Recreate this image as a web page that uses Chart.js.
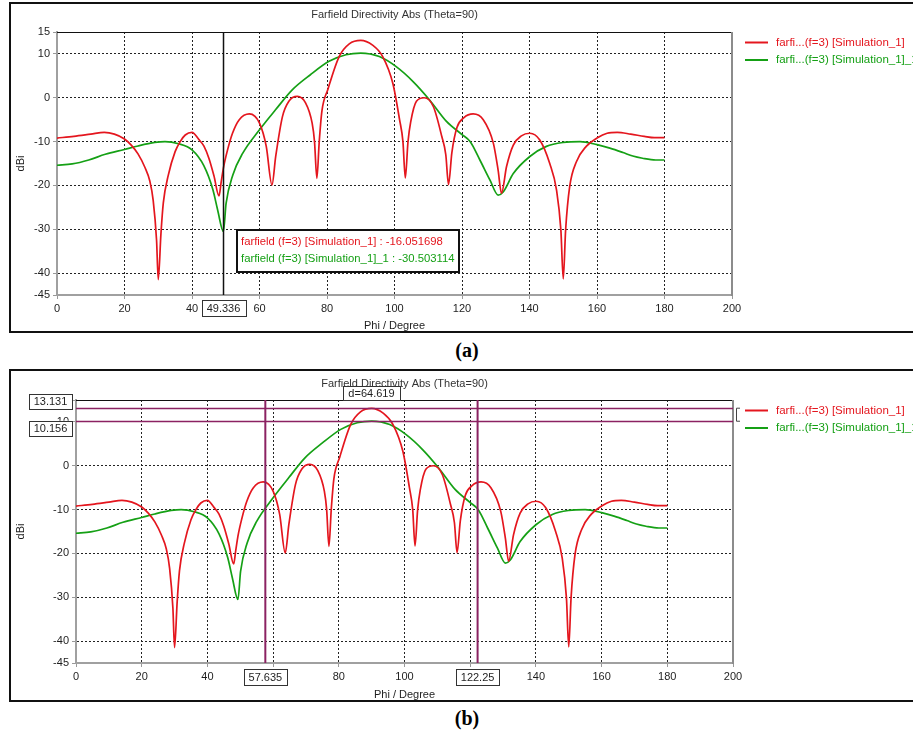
<!DOCTYPE html>
<html>
<head>
<meta charset="utf-8">
<script src="https://cdn.jsdelivr.net/npm/chart.js@4.4.0/dist/chart.umd.min.js"></script>
<style>
  body { margin: 0; background: #fff; width: 913px; height: 736px; overflow: hidden; position: relative; }
  .panel { position: absolute; left: 9px; width: 906px; border: 2px solid #111; background: #fff; overflow: hidden; }
  #panelA { top: 2px; height: 327px; }
  #panelB { top: 369px; height: 329px; }
  .panel canvas { position: absolute; left: 0; top: 0; }
  .cap { position: absolute; left: 417px; width: 100px; text-align: center; font: bold 20px "Liberation Serif", serif; color: #000; }
</style>
</head>
<body>
<div class="panel" id="panelA"><canvas id="chartA" width="902" height="327"></canvas></div>
<div class="cap" style="top:339px">(a)</div>
<div class="panel" id="panelB"><canvas id="chartB" width="902" height="329"></canvas></div>
<div class="cap" style="top:707px">(b)</div>
<script>
// Farfield directivity cut (Theta=90)
const phiRed = [0, 5, 10, 14, 17, 20, 22, 24, 26, 27.5, 28.5, 29.5, 30, 30.8, 31.5, 33, 35, 36.5, 38, 40,
    42, 43.5, 45, 46.5, 48, 48.6, 49.3, 50.5, 52, 54, 57, 60, 62, 63.7, 64.8, 66.8, 68.7, 71.2, 73.6, 75.6,
    76.3, 77, 77.7, 78.5, 80.3, 83.6, 86.6, 90, 93.5, 96.5, 99.5, 101.5, 102.5, 103.2, 104, 104.8, 106.5, 108.8, 111.5, 114,
    115.2, 116, 117, 118.5, 120.5, 123.3, 126.3, 129.3, 130.7, 131.7, 133.2, 135.2, 137.6, 140.1, 143, 146, 148, 149.3, 150, 150.7,
    151.9, 153.9, 156.8, 160, 163, 166, 170, 174, 177, 180];
const dbiRed = [-9.2, -8.8, -8.3, -7.9, -8.3, -9.4, -10.8, -12.8, -15.8, -19, -23.4, -32.5, -41.5, -31, -24, -17.6, -12.3, -10, -8.5, -7.9,
    -9.5, -11, -13.8, -17.8, -22.4, -19.5, -16.05, -12, -8.1, -5, -3.7, -5.8, -11.1, -19.9, -13.4, -4.3, -0.8, 0.3, -1.1, -5.8,
    -10, -18.4, -10, -3, 2, 9.4, 12.3, 13.1, 12, 9.4, 3.3, -5, -10, -18.3, -10, -5.5, -0.8, 0, -2, -8.8,
    -13, -19.8, -12.5, -6.8, -4.6, -3.7, -5, -10.4, -16.5, -21.8, -15.7, -10.8, -8.7, -8.1, -9.6, -15, -21, -30.2, -41.3, -30.2,
    -20.3, -14.6, -11.1, -9.2, -8.1, -7.9, -8.3, -8.8, -9.1, -9.1];

const phiGreen = [0, 4.5, 9.4, 14.3, 20, 24, 29, 32, 36, 40, 43.5, 46.2, 47.6, 49.3, 50.1, 52.1, 55, 60, 64.8, 69.7,
    75, 80.6, 85.6, 90, 95.5, 100.5, 105.5, 110.4, 115.4, 120, 122.4, 125.3, 128.3, 130.7, 132.2, 135.2, 140.1, 145, 150, 155,
    160, 163.8, 167.7, 170.6, 173.5, 177.4, 180];
const dbiGreen = [-15.4, -15.1, -14.2, -12.9, -11.8, -11, -10.2, -10, -10.5, -11.9, -15.5, -21, -25.6, -30.5, -24.1, -17.6, -12.7, -7.3, -2.7, 1.8,
    5.2, 8.3, 9.8, 10.2, 9.4, 7.1, 3.7, -0.5, -5.4, -8.4, -10, -14.2, -18.8, -22.2, -21.5, -17.3, -13.4, -11.1, -10.2, -10,
    -10.7, -11.5, -12.5, -13.3, -13.8, -14.2, -14.2];

const seriesNames = ['farfi...(f=3) [Simulation_1]', 'farfi...(f=3) [Simulation_1]_1'];
const seriesColors = ['#e4161e', '#15a015'];
const chartTitle = 'Farfield Directivity Abs (Theta=90)';
const yTicks = [-45, -40, -30, -20, -10, 0, 10, 15];

// markers
const cursorA = 49.336;
const readoutA = ['farfield (f=3) [Simulation_1] : -16.051698', 'farfield (f=3) [Simulation_1]_1 : -30.503114'];
const cursorsB = [57.635, 122.25];
const levelsB = [13.131, 10.156];
const distB = 'd=64.619';

const FONT = '"Liberation Sans", Arial, sans-serif';
const TXT = '#1e1e1e';
const PURPLE = '#8b2262';

function box(ctx, cx, cy, w, h, text, fill) {
    ctx.save();
    if (fill) { ctx.fillStyle = '#fff'; ctx.fillRect(cx - w / 2, cy - h / 2, w, h); }
    ctx.strokeStyle = '#333';
    ctx.lineWidth = 1;
    ctx.strokeRect(Math.round(cx - w / 2) + 0.5, Math.round(cy - h / 2) + 0.5, w, h);
    ctx.fillStyle = TXT;
    ctx.font = '11px ' + FONT;
    ctx.textAlign = 'center';
    ctx.textBaseline = 'middle';
    ctx.fillText(text, cx, cy + 0.5);
    ctx.restore();
}

const overlay = {
    id: 'overlay',
    afterDraw(chart, args, o) {
        const { ctx, chartArea: a } = chart;
        const x = chart.scales.x, y = chart.scales.y;
        ctx.save();
        // plot frame (top black, right grey)
        ctx.strokeStyle = '#111';
        ctx.lineWidth = 1;
        ctx.beginPath(); ctx.moveTo(a.left, a.top + 0.5); ctx.lineTo(a.right, a.top + 0.5); ctx.stroke();
        ctx.strokeStyle = '#8c8c8c';
        ctx.lineWidth = 2;
        ctx.beginPath(); ctx.moveTo(a.right, a.top); ctx.lineTo(a.right, a.bottom + 1); ctx.stroke();

        // title
        ctx.fillStyle = '#333';
        ctx.font = '11px ' + FONT;
        ctx.textAlign = 'center';
        ctx.textBaseline = 'middle';
        ctx.fillText(chartTitle, (a.left + a.right) / 2, o.titleY);

        // legend
        ctx.textAlign = 'left';
        ctx.font = '11.5px ' + FONT;
        seriesNames.forEach((name, i) => {
            const ly = o.legendY + i * 17.5;
            ctx.strokeStyle = seriesColors[i];
            ctx.lineWidth = 2;
            ctx.beginPath(); ctx.moveTo(734, ly); ctx.lineTo(757, ly); ctx.stroke();
            ctx.fillStyle = seriesColors[i];
            ctx.fillText(name, 765, ly);
        });

        if (o.mode === 'a') {
            const px = x.getPixelForValue(cursorA);
            ctx.strokeStyle = '#111';
            ctx.lineWidth = 1.5;
            ctx.beginPath(); ctx.moveTo(px, a.top); ctx.lineTo(px, a.bottom); ctx.stroke();
            box(ctx, px, a.bottom + 13, 44, 16, cursorA.toFixed(3), true);

            // readout box
            const bx = Math.round(px + 13), by = Math.round(y.getPixelForValue(-30.5) - 1.5);
            ctx.fillStyle = '#fff';
            ctx.fillRect(bx, by, 222, 42);
            ctx.strokeStyle = '#111';
            ctx.lineWidth = 2;
            ctx.strokeRect(bx, by, 222, 42);
            ctx.font = '11.3px ' + FONT;
            ctx.textAlign = 'left';
            readoutA.forEach((t, i) => {
                ctx.fillStyle = seriesColors[i];
                ctx.fillText(t, bx + 4, by + 12 + i * 17);
            });
        } else {
            ctx.strokeStyle = PURPLE;
            ctx.lineWidth = 1.5;
            levelsB.forEach(v => {
                const py = Math.round(y.getPixelForValue(v)) + 0.5;
                ctx.beginPath(); ctx.moveTo(a.left, py); ctx.lineTo(a.right, py); ctx.stroke();
            });
            ctx.lineWidth = 2;
            const pxs = cursorsB.map(v => x.getPixelForValue(v));
            pxs.forEach(px => {
                ctx.beginPath(); ctx.moveTo(px, a.top); ctx.lineTo(px, a.bottom); ctx.stroke();
            });
            // bracket between the levels
            const y1 = y.getPixelForValue(levelsB[0]), y2 = y.getPixelForValue(levelsB[1]);
            ctx.strokeStyle = '#444';
            ctx.lineWidth = 1;
            ctx.beginPath();
            ctx.moveTo(a.right + 7, y1); ctx.lineTo(a.right + 3.5, y1); ctx.lineTo(a.right + 3.5, y2); ctx.lineTo(a.right + 7, y2);
            ctx.stroke();
            // value boxes
            box(ctx, a.left - 25.5, y1 - 7, 43, 15, levelsB[0].toFixed(3), true);
            box(ctx, a.left - 25.5, y2 + 7, 43, 15, levelsB[1].toFixed(3), true);
            cursorsB.forEach((v, i) => box(ctx, pxs[i], a.bottom + 14, 43, 16, String(v.toFixed(i ? 2 : 3)), true));
            box(ctx, (pxs[0] + pxs[1]) / 2, a.top - 7, 57, 14, distB, false);
        }
        ctx.restore();
    }
};

function makeChart(id, yWidth, xHeight, padRight, padTop, ov) {
    const ctx = document.getElementById(id).getContext('2d');
    return new Chart(ctx, {
        type: 'line',
        data: {
            datasets: [{
                label: seriesNames[0],
                data: phiRed.map((p, i) => ({ x: p, y: dbiRed[i] })),
                borderColor: seriesColors[0],
                borderWidth: 1.7,
            }, {
                label: seriesNames[1],
                data: phiGreen.map((p, i) => ({ x: p, y: dbiGreen[i] })),
                borderColor: seriesColors[1],
                borderWidth: 1.7,
            }]
        },
        options: {
            responsive: false,
            animation: false,
            layout: { padding: { top: padTop, right: padRight, left: 0, bottom: 0 } },
            elements: {
                point: { radius: 0 },
                line: { cubicInterpolationMode: 'monotone' },
            },
            scales: {
                x: {
                    type: 'linear',
                    min: 0,
                    max: 200,
                    afterFit: (s) => { s.height = xHeight; },
                    ticks: { stepSize: 20, color: TXT, font: { family: FONT, size: 11 }, padding: 3, maxRotation: 0, autoSkip: false },
                    grid: {
                        color: (c) => (c.tick && (c.tick.value === 0 || c.tick.value === 200)) ? 'rgba(0,0,0,0)' : '#222',
                        tickLength: 4,
                        tickColor: '#999',
                        tickWidth: 1,
                    },
                    border: { color: '#a0a0a0', width: 2, dash: [2, 2] },
                    title: { display: true, text: 'Phi / Degree', color: TXT, font: { family: FONT, size: 11 }, padding: { top: 0, bottom: -2 } },
                },
                y: {
                    type: 'linear',
                    min: -45,
                    max: 15,
                    afterBuildTicks: (s) => { s.ticks = yTicks.map(v => ({ value: v })); },
                    afterFit: (s) => { s.width = yWidth; },
                    ticks: { color: TXT, font: { family: FONT, size: 11 }, padding: 3, autoSkip: false },
                    grid: {
                        color: (c) => (c.tick && (c.tick.value === -45 || c.tick.value === 15)) ? 'rgba(0,0,0,0)' : '#222',
                        tickLength: 4,
                        tickColor: '#999',
                        tickWidth: 1,
                    },
                    border: { color: '#a0a0a0', width: 2, dash: [2, 2] },
                    title: { display: true, text: 'dBi', color: TXT, font: { family: FONT, size: 11 }, padding: { top: 3, bottom: 0 } },
                },
            },
            plugins: {
                legend: { display: false },
                tooltip: { enabled: false },
                overlay: ov,
            },
        },
        plugins: [overlay],
    });
}

makeChart('chartA', 46, 36, 181, 28, { mode: 'a', titleY: 11, legendY: 38.5 });
makeChart('chartB', 65, 37, 180, 29, { mode: 'b', titleY: 13, legendY: 39.5 });
</script>
</body>
</html>
